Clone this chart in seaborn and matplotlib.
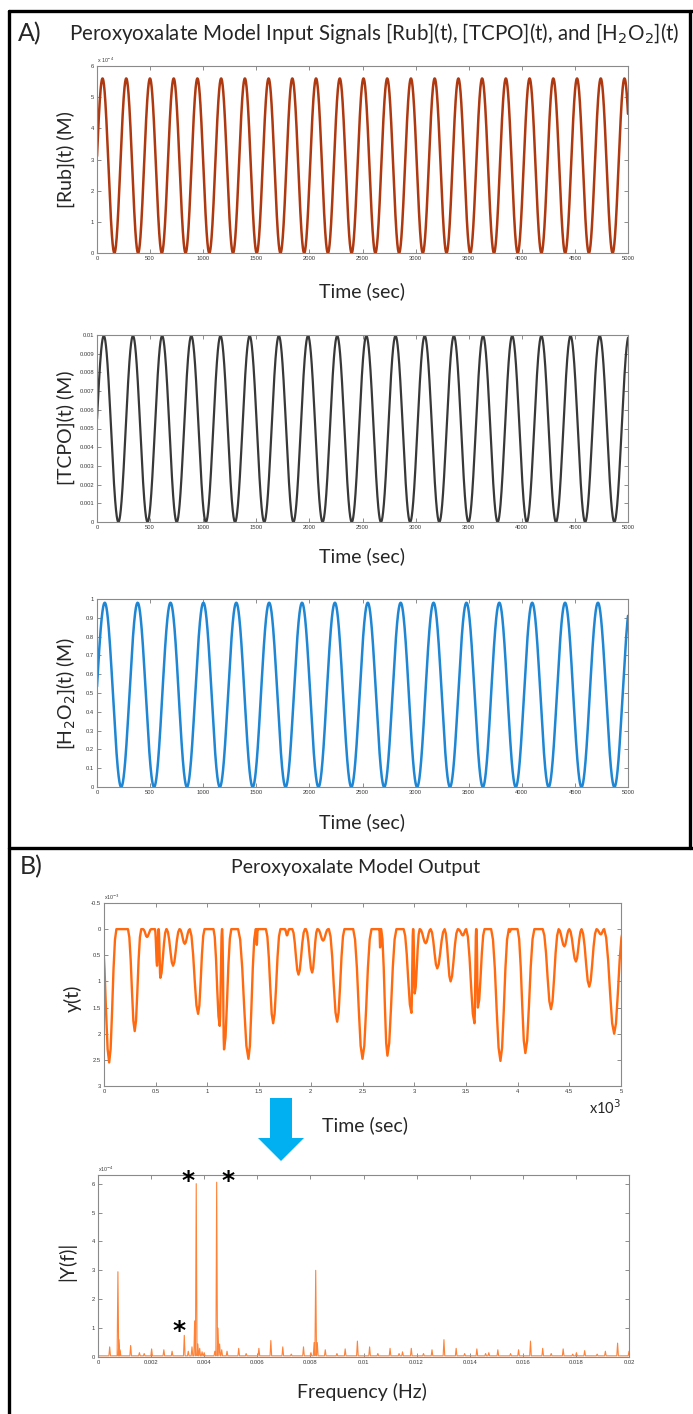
import numpy as np
import pandas as pd
import matplotlib
matplotlib.use("Agg")
import matplotlib.pyplot as plt
import seaborn as sns
from matplotlib.patches import Polygon
from matplotlib.lines import Line2D
from matplotlib.ticker import FixedLocator, FixedFormatter

sns.set_theme(style="white")
plt.rcParams['font.family'] = ['Lato', 'DejaVu Sans']

# ------------------------------------------------------------------ data
# Input signals: peak value, period (s), time of first peak (s)
rub_peak, rub_period, rub_first_peak = 5.6e-4, 223.4, 52.0
tcpo_peak, tcpo_period, tcpo_first_peak = 0.00995, 274.7, 64.0
h2o2_peak, h2o2_period, h2o2_first_peak = 0.98, 309.6, 73.0
t_end = 5000

# Model output y(t) (x1e-3): dips
dip_time = [50, 297, 416, 513, 545, 668, 781, 910, 1119, 1161, 1397, 1478, 1636, 1770,
            1881, 2013, 2119, 2255, 2500, 2670, 2741, 2973, 3005, 3111, 3223, 3352, 3471,
            3583, 3616, 3834, 3925, 4075, 4323, 4452, 4564, 4693, 4805, 4934]
dip_depth = [2.55, 1.95, 0.15, 0.70, 0.93, 0.70, 0.28, 1.62, 1.85, 2.30, 2.48, 0.30, 1.80, 0.12,
             0.87, 0.83, 0.22, 1.77, 2.48, 0.35, 2.42, 1.60, 1.23, 0.27, 0.75, 1.00, 0.12,
             1.80, 1.50, 2.52, 0.05, 2.37, 1.53, 0.33, 0.62, 1.10, 0.10, 2.00]
dip_left = [75, 65, 38, 20, 16, 62, 48, 80, 60, 18, 100, 8, 70, 20,
            60, 60, 50, 80, 90, 7, 60, 75, 14, 55, 64, 58, 45,
            80, 14, 90, 10, 75, 80, 55, 64, 74, 42, 97]
dip_right = [70, 63, 40, 14, 58, 62, 48, 62, 22, 70, 70, 8, 70, 20,
             62, 50, 48, 70, 87, 7, 87, 16, 48, 48, 70, 70, 32,
             16, 64, 80, 10, 87, 74, 48, 55, 70, 32, 88]

# Spectrum |Y(f)| (x1e-4): peak frequency (Hz), height, half width (Hz)
peak_freq = [0.00044, 0.00075, 0.00079, 0.00083, 0.00123, 0.00156, 0.00174, 0.00202, 0.00248,
             0.00279, 0.00325, 0.00340, 0.00354, 0.00364, 0.00370, 0.00376, 0.00383, 0.00392,
             0.00400, 0.00440, 0.00447, 0.00452, 0.00458, 0.00466, 0.00486, 0.00530, 0.00558,
             0.00606, 0.00651, 0.00696, 0.00728, 0.00774, 0.00802, 0.00814, 0.00820, 0.00826,
             0.00856, 0.00900, 0.00931, 0.00977, 0.01023, 0.01054, 0.01100, 0.01134, 0.01147,
             0.01180, 0.01226, 0.01258, 0.01303, 0.01349, 0.01381, 0.01427, 0.01460, 0.01472,
             0.01506, 0.01554, 0.01584, 0.01629, 0.01675, 0.01707, 0.01752, 0.01788, 0.01802,
             0.01833, 0.01880, 0.01911, 0.01957, 0.02000]
peak_amp = [0.35, 2.95, 0.60, 0.25, 0.40, 0.15, 0.12, 0.28, 0.25,
            0.20, 0.75, 0.20, 0.35, 1.25, 6.00, 0.45, 0.30, 0.18,
            0.15, 0.20, 6.05, 1.00, 0.45, 0.25, 0.20, 0.30, 0.12,
            0.30, 0.57, 0.35, 0.10, 0.35, 0.15, 0.50, 3.00, 0.50,
            0.25, 0.12, 0.28, 0.55, 0.35, 0.12, 0.30, 0.12, 0.18,
            0.30, 0.12, 0.25, 0.60, 0.30, 0.12, 0.28, 0.12, 0.15,
            0.25, 0.12, 0.25, 0.55, 0.30, 0.12, 0.28, 0.10, 0.15,
            0.22, 0.10, 0.20, 0.48, 0.20]
peak_halfwidth = [3e-5] * len(peak_freq)
spectrum_floor = 0.04

# tick labels
time_ticks = list(range(0, 5001, 500))
rub_ticks = [0, 1e-4, 2e-4, 3e-4, 4e-4, 5e-4, 6e-4]
rub_labels = ['0', '1', '2', '3', '4', '5', '6']
tcpo_ticks = [i * 0.001 for i in range(11)]
tcpo_labels = ['0', '0.001', '0.002', '0.003', '0.004', '0.005', '0.006', '0.007', '0.008', '0.009', '0.01']
h2o2_ticks = [i * 0.1 for i in range(11)]
h2o2_labels = ['0', '0.1', '0.2', '0.3', '0.4', '0.5', '0.6', '0.7', '0.8', '0.9', '1']
out_xlabels = ['0', '0.5', '1', '1.5', '2', '2.5', '3', '3.5', '4', '4.5', '5']
out_yticks = [-0.5, 0, 0.5, 1, 1.5, 2, 2.5, 3]
out_ylabels = ['-0.5', '0', '0.5', '1', '1.5', '2', '2.5', '3']
freq_ticks = [i * 0.002 for i in range(11)]
freq_labels = ['0', '0.002', '0.004', '0.006', '0.008', '0.01', '0.012', '0.014', '0.016', '0.018', '0.02']
spec_yticks = [0, 1, 2, 3, 4, 5, 6]
spec_ylabels = ['0', '1', '2', '3', '4', '5', '6']

# ------------------------------------------------------------------ build series
t = np.linspace(0, t_end, 5001)
def sinus(peak, period, first):
    return peak / 2 * (1 + np.cos(2 * np.pi * (t - first) / period))

df_in = pd.DataFrame({'t': t,
                      'rub': sinus(rub_peak, rub_period, rub_first_peak),
                      'tcpo': sinus(tcpo_peak, tcpo_period, tcpo_first_peak),
                      'h2o2': sinus(h2o2_peak, h2o2_period, h2o2_first_peak)})

shape_u = [-1, -0.8, -0.6, -0.4, -0.2, 0, 0.2, 0.4, 0.6, 0.8, 1]
shape_f = [0, 0.08, 0.3, 0.62, 0.9, 1, 0.9, 0.62, 0.3, 0.08, 0]
yt_t, yt_v = [], []
for c, d, l, r in zip(dip_time, dip_depth, dip_left, dip_right):
    for u, f in zip(shape_u, shape_f):
        yt_t.append(c + u * (l if u < 0 else r))
        yt_v.append(d * f)
df_out = pd.DataFrame({'t': yt_t, 'y': yt_v})

sp_f, sp_a = [0.0], [spectrum_floor]
for f0, a0, w0 in zip(peak_freq, peak_amp, peak_halfwidth):
    sp_f += [f0 - w0, f0, f0 + w0]
    sp_a += [spectrum_floor, a0, spectrum_floor]
df_spec = pd.DataFrame({'f': sp_f, 'a': sp_a})

# ------------------------------------------------------------------ figure
W, H = 693, 1414
fig = plt.figure(figsize=(W / 100, H / 100), dpi=100)
fig.patch.set_facecolor('white')

def box(l, t_, r, b):
    return [l / W, 1 - b / H, (r - l) / W, (b - t_) / H]

def fx(px):
    return px / W

def fy(py):
    return 1 - py / H

def style(ax):
    ax.set_facecolor('white')
    for s in ax.spines.values():
        s.set_color('#8a8a8a')
        s.set_linewidth(0.8)
    ax.tick_params(direction='in', length=3.2, width=0.6, colors='#7a7a7a',
                   labelcolor='#3a3a3a', labelsize=4.2, pad=2,
                   bottom=True, left=True, top=True, right=True)
    for lab in ax.get_xticklabels() + ax.get_yticklabels():
        lab.set_fontfamily('Liberation Sans')
    ax.set_xlabel('')
    ax.set_ylabel('')
    ax.grid(False)

def set_ticks(ax, axis, ticks, labels):
    a = ax.xaxis if axis == 'x' else ax.yaxis
    a.set_major_locator(FixedLocator(ticks))
    a.set_major_formatter(FixedFormatter(labels))

label_fs = 14

# --- A1 Rub
ax1 = fig.add_axes(box(97, 66, 628, 253))
sns.lineplot(data=df_in, x='t', y='rub', ax=ax1, color='#AE3810', linewidth=1.8)
ax1.set_xlim(0, t_end); ax1.set_ylim(0, 6e-4)
set_ticks(ax1, 'x', time_ticks, [str(v) for v in time_ticks])
set_ticks(ax1, 'y', rub_ticks, rub_labels)
style(ax1)
ax1.text(0.0, 1.008, 'x 10$^{-4}$', transform=ax1.transAxes, fontsize=3.8,
         color='#3a3a3a', family='Liberation Sans', va='bottom')

# --- A2 TCPO
ax2 = fig.add_axes(box(97, 335, 628, 522))
sns.lineplot(data=df_in, x='t', y='tcpo', ax=ax2, color='#383838', linewidth=1.6)
ax2.set_xlim(0, t_end); ax2.set_ylim(0, 0.01)
set_ticks(ax2, 'x', time_ticks, [str(v) for v in time_ticks])
set_ticks(ax2, 'y', tcpo_ticks, tcpo_labels)
style(ax2)

# --- A3 H2O2
ax3 = fig.add_axes(box(97, 599, 628, 787))
sns.lineplot(data=df_in, x='t', y='h2o2', ax=ax3, color='#1F86D4', linewidth=1.8)
ax3.set_xlim(0, t_end); ax3.set_ylim(0, 1)
set_ticks(ax3, 'x', time_ticks, [str(v) for v in time_ticks])
set_ticks(ax3, 'y', h2o2_ticks, h2o2_labels)
style(ax3)

# --- B1 output y(t)
ax4 = fig.add_axes(box(104, 903, 621, 1086))
sns.lineplot(data=df_out, x='t', y='y', ax=ax4, color='#FF6A10', linewidth=1.7,
             sort=False, estimator=None)
ax4.set_xlim(0, t_end); ax4.set_ylim(3, -0.5)
set_ticks(ax4, 'x', time_ticks, out_xlabels)
set_ticks(ax4, 'y', out_yticks, out_ylabels)
style(ax4)
ax4.text(0.0, 1.008, 'x10$^{-3}$', transform=ax4.transAxes, fontsize=3.8,
         color='#3a3a3a', family='Liberation Sans', va='bottom')

# --- B2 spectrum
ax5 = fig.add_axes(box(98, 1175, 629, 1357))
sns.lineplot(data=df_spec, x='f', y='a', ax=ax5, color='#FF8236', linewidth=0.8,
             sort=False, estimator=None)
ax5.set_xlim(0, 0.02); ax5.set_ylim(0, 6.3)
set_ticks(ax5, 'x', freq_ticks, freq_labels)
set_ticks(ax5, 'y', spec_yticks, spec_ylabels)
style(ax5)
ax5.text(0.0, 1.008, 'x10$^{-4}$', transform=ax5.transAxes, fontsize=3.8,
         color='#3a3a3a', family='Liberation Sans', va='bottom')
for xa, ya in [(0.00341, 5.85), (0.00488, 5.85), (0.00306, 0.65)]:
    ax5.text(xa, ya, '*', fontsize=18, fontweight='bold', ha='center', va='baseline',
             color='black', family='DejaVu Sans', clip_on=False)

# ------------------------------------------------------------------ texts
fig.text(fx(30), fy(34), 'A)', fontsize=18, ha='center', va='center')
fig.text(fx(374), fy(33), 'Peroxyoxalate Model Input Signals [Rub](t), [TCPO](t), and [H$_2$O$_2$](t)',
         fontsize=14.8, ha='center', va='center')
fig.text(fx(66), fy(160), '[Rub](t) (M)', rotation=90, fontsize=label_fs, ha='center', va='center')
fig.text(fx(362), fy(291), 'Time (sec)', fontsize=label_fs, ha='center', va='center')
fig.text(fx(66), fy(428), '[TCPO](t) (M)', rotation=90, fontsize=label_fs, ha='center', va='center')
fig.text(fx(362), fy(556), 'Time (sec)', fontsize=label_fs, ha='center', va='center')
fig.text(fx(66), fy(693), '[H$_2$O$_2$](t) (M)', rotation=90, fontsize=label_fs, ha='center', va='center')
fig.text(fx(362), fy(822), 'Time (sec)', fontsize=label_fs, ha='center', va='center')

fig.text(fx(31), fy(867), 'B)', fontsize=18, ha='center', va='center')
fig.text(fx(356), fy(867), 'Peroxyoxalate Model Output', fontsize=14, ha='center', va='center')
fig.text(fx(73), fy(998), 'y(t)', rotation=90, fontsize=label_fs, ha='center', va='center')
fig.text(fx(621), fy(1108), 'x10$^{3}$', fontsize=10.5, ha='right', va='center')
fig.text(fx(365), fy(1125), 'Time (sec)', fontsize=label_fs, ha='center', va='center')
fig.text(fx(67), fy(1261), '|Y(f)|', rotation=90, fontsize=label_fs, ha='center', va='center')
fig.text(fx(362), fy(1392), 'Frequency (Hz)', fontsize=label_fs, ha='center', va='center')

# blue arrow
arrow_pts = [(270, 1098), (292, 1098), (292, 1138), (304, 1138), (281, 1161), (258, 1138), (270, 1138)]
fig.patches.append(Polygon([(fx(x), fy(y)) for x, y in arrow_pts], closed=True,
                           transform=fig.transFigure, facecolor='#00B0F0', edgecolor='none'))

# panel borders
lw = 2.4
for xs, ys in [([9, 693], [11, 11]), ([9, 9], [11, 1414]), ([690, 690], [11, 848]), ([9, 693], [848, 848])]:
    fig.add_artist(Line2D([fx(x) for x in xs], [fy(y) for y in ys], color='black',
                          linewidth=lw, transform=fig.transFigure))

fig.savefig('out.png', dpi=100, facecolor='white')
